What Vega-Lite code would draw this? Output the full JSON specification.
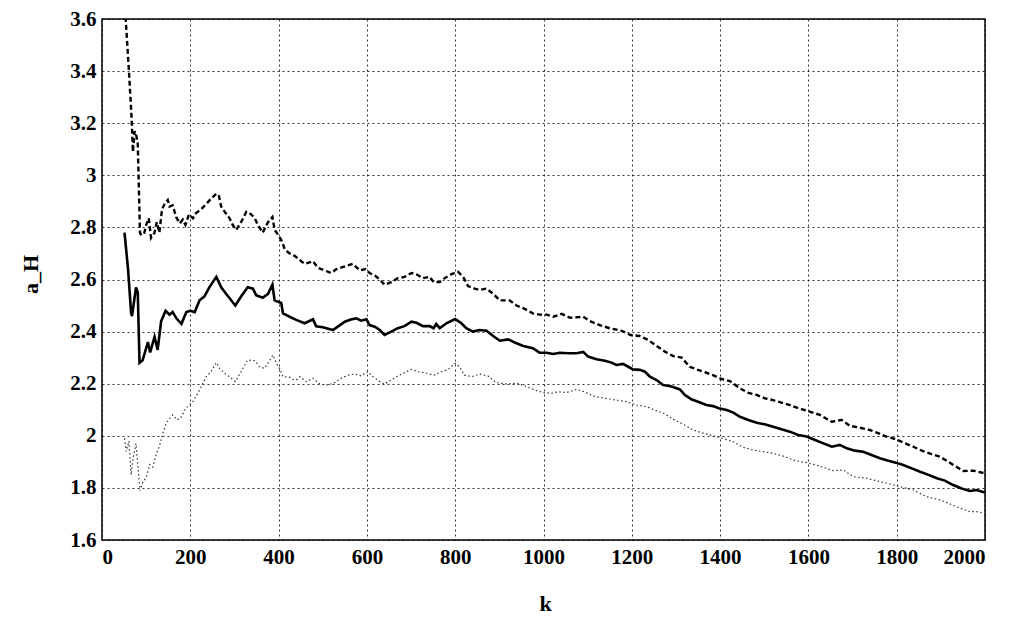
{
  "$schema": "https://vega.github.io/schema/vega-lite/v6.json",
  "width": 883,
  "height": 521,
  "autosize": {"type": "none"},
  "padding": {"left": 102, "top": 19, "right": 27, "bottom": 81},
  "background": "white",
  "config": {
    "view": {"stroke": "black", "strokeWidth": 1.5},
    "axis": {
      "grid": true,
      "gridColor": "#000000",
      "gridDash": [2, 3],
      "gridOpacity": 0.8,
      "gridWidth": 1,
      "domain": false,
      "ticks": false,
      "labelFont": "Liberation Serif",
      "labelFontWeight": "bold",
      "labelFontSize": 21,
      "labelColor": "#000000",
      "titleFont": "Liberation Serif",
      "titleFontWeight": "bold",
      "titleFontSize": 22,
      "titleColor": "#000000"
    }
  },
  "datasets": {
    "dashed": [
      {"k":50,"v":3.70},{"k":61,"v":3.40},{"k":67,"v":3.22},{"k":70,"v":3.09},{"k":74,"v":3.17},{"k":78,"v":3.15},{"k":81,"v":3.12},{"k":86,"v":2.78},{"k":89,"v":2.77},{"k":96,"v":2.78},{"k":100,"v":2.81},{"k":106,"v":2.835},{"k":111,"v":2.76},{"k":119,"v":2.78},{"k":124,"v":2.82},{"k":130,"v":2.78},{"k":136,"v":2.87},{"k":142,"v":2.89},{"k":149,"v":2.905},{"k":153,"v":2.88},{"k":160,"v":2.885},{"k":168,"v":2.84},{"k":176,"v":2.815},{"k":183,"v":2.83},{"k":189,"v":2.81},{"k":197,"v":2.85},{"k":206,"v":2.835},{"k":213,"v":2.855},{"k":225,"v":2.87},{"k":236,"v":2.89},{"k":247,"v":2.91},{"k":259,"v":2.93},{"k":265,"v":2.92},{"k":270,"v":2.88},{"k":280,"v":2.855},{"k":289,"v":2.835},{"k":296,"v":2.81},{"k":304,"v":2.79},{"k":315,"v":2.82},{"k":327,"v":2.86},{"k":338,"v":2.85},{"k":346,"v":2.835},{"k":353,"v":2.81},{"k":364,"v":2.78},{"k":376,"v":2.82},{"k":386,"v":2.84},{"k":391,"v":2.79},{"k":400,"v":2.77},{"k":408,"v":2.745},{"k":414,"v":2.715},{"k":425,"v":2.70},{"k":437,"v":2.69},{"k":444,"v":2.68},{"k":459,"v":2.66},{"k":478,"v":2.67},{"k":489,"v":2.645},{"k":504,"v":2.635},{"k":519,"v":2.625},{"k":531,"v":2.64},{"k":550,"v":2.65},{"k":568,"v":2.66},{"k":584,"v":2.635},{"k":597,"v":2.64},{"k":606,"v":2.625},{"k":618,"v":2.615},{"k":629,"v":2.60},{"k":640,"v":2.58},{"k":655,"v":2.59},{"k":670,"v":2.605},{"k":685,"v":2.61},{"k":701,"v":2.625},{"k":712,"v":2.62},{"k":727,"v":2.605},{"k":742,"v":2.61},{"k":751,"v":2.59},{"k":765,"v":2.59},{"k":776,"v":2.605},{"k":791,"v":2.62},{"k":806,"v":2.63},{"k":818,"v":2.61},{"k":829,"v":2.575},{"k":844,"v":2.565},{"k":855,"v":2.56},{"k":871,"v":2.565},{"k":886,"v":2.545},{"k":901,"v":2.52},{"k":923,"v":2.52},{"k":939,"v":2.50},{"k":954,"v":2.49},{"k":976,"v":2.47},{"k":991,"v":2.465},{"k":1007,"v":2.465},{"k":1022,"v":2.457},{"k":1041,"v":2.468},{"k":1060,"v":2.453},{"k":1090,"v":2.457},{"k":1105,"v":2.44},{"k":1127,"v":2.425},{"k":1150,"v":2.413},{"k":1177,"v":2.403},{"k":1197,"v":2.387},{"k":1218,"v":2.383},{"k":1237,"v":2.368},{"k":1256,"v":2.345},{"k":1275,"v":2.323},{"k":1294,"v":2.306},{"k":1313,"v":2.30},{"k":1331,"v":2.265},{"k":1350,"v":2.253},{"k":1369,"v":2.242},{"k":1384,"v":2.233},{"k":1403,"v":2.218},{"k":1422,"v":2.21},{"k":1445,"v":2.182},{"k":1464,"v":2.165},{"k":1483,"v":2.157},{"k":1501,"v":2.144},{"k":1520,"v":2.137},{"k":1539,"v":2.127},{"k":1558,"v":2.118},{"k":1577,"v":2.106},{"k":1603,"v":2.093},{"k":1626,"v":2.08},{"k":1653,"v":2.054},{"k":1675,"v":2.061},{"k":1694,"v":2.038},{"k":1717,"v":2.031},{"k":1740,"v":2.022},{"k":1758,"v":2.01},{"k":1777,"v":1.997},{"k":1798,"v":1.987},{"k":1819,"v":1.971},{"k":1838,"v":1.958},{"k":1857,"v":1.943},{"k":1879,"v":1.93},{"k":1898,"v":1.92},{"k":1917,"v":1.90},{"k":1936,"v":1.88},{"k":1951,"v":1.865},{"k":1974,"v":1.866},{"k":2000,"v":1.856}
    ],
    "solid": [
      {"k":51,"v":2.78},{"k":55,"v":2.71},{"k":59,"v":2.64},{"k":66,"v":2.47},{"k":68,"v":2.46},{"k":77,"v":2.57},{"k":81,"v":2.55},{"k":85,"v":2.28},{"k":92,"v":2.29},{"k":104,"v":2.36},{"k":109,"v":2.32},{"k":119,"v":2.38},{"k":126,"v":2.33},{"k":134,"v":2.44},{"k":144,"v":2.48},{"k":153,"v":2.465},{"k":160,"v":2.475},{"k":169,"v":2.45},{"k":180,"v":2.43},{"k":191,"v":2.475},{"k":200,"v":2.48},{"k":210,"v":2.475},{"k":221,"v":2.52},{"k":232,"v":2.535},{"k":243,"v":2.57},{"k":259,"v":2.61},{"k":270,"v":2.57},{"k":281,"v":2.545},{"k":302,"v":2.50},{"k":315,"v":2.535},{"k":330,"v":2.57},{"k":342,"v":2.565},{"k":349,"v":2.54},{"k":364,"v":2.53},{"k":376,"v":2.545},{"k":386,"v":2.58},{"k":391,"v":2.52},{"k":406,"v":2.51},{"k":410,"v":2.47},{"k":425,"v":2.457},{"k":440,"v":2.445},{"k":459,"v":2.432},{"k":478,"v":2.447},{"k":485,"v":2.42},{"k":500,"v":2.417},{"k":523,"v":2.406},{"k":534,"v":2.419},{"k":550,"v":2.438},{"k":565,"v":2.447},{"k":576,"v":2.451},{"k":587,"v":2.442},{"k":599,"v":2.447},{"k":606,"v":2.425},{"k":618,"v":2.419},{"k":629,"v":2.406},{"k":640,"v":2.387},{"k":655,"v":2.40},{"k":670,"v":2.413},{"k":685,"v":2.421},{"k":701,"v":2.438},{"k":712,"v":2.434},{"k":727,"v":2.421},{"k":742,"v":2.421},{"k":751,"v":2.413},{"k":757,"v":2.429},{"k":765,"v":2.413},{"k":780,"v":2.432},{"k":800,"v":2.448},{"k":814,"v":2.432},{"k":825,"v":2.413},{"k":840,"v":2.40},{"k":855,"v":2.406},{"k":871,"v":2.403},{"k":886,"v":2.383},{"k":901,"v":2.365},{"k":920,"v":2.37},{"k":939,"v":2.355},{"k":954,"v":2.345},{"k":976,"v":2.336},{"k":991,"v":2.319},{"k":1007,"v":2.319},{"k":1022,"v":2.314},{"k":1037,"v":2.319},{"k":1056,"v":2.317},{"k":1075,"v":2.317},{"k":1090,"v":2.322},{"k":1101,"v":2.304},{"k":1120,"v":2.294},{"k":1139,"v":2.288},{"k":1154,"v":2.281},{"k":1165,"v":2.272},{"k":1180,"v":2.276},{"k":1192,"v":2.265},{"k":1203,"v":2.255},{"k":1218,"v":2.253},{"k":1230,"v":2.246},{"k":1241,"v":2.227},{"k":1256,"v":2.214},{"k":1271,"v":2.195},{"k":1290,"v":2.189},{"k":1309,"v":2.178},{"k":1320,"v":2.157},{"k":1335,"v":2.14},{"k":1350,"v":2.131},{"k":1369,"v":2.118},{"k":1384,"v":2.114},{"k":1397,"v":2.106},{"k":1415,"v":2.099},{"k":1430,"v":2.089},{"k":1445,"v":2.073},{"k":1464,"v":2.061},{"k":1483,"v":2.05},{"k":1501,"v":2.044},{"k":1520,"v":2.035},{"k":1539,"v":2.025},{"k":1558,"v":2.016},{"k":1577,"v":2.003},{"k":1596,"v":1.997},{"k":1615,"v":1.984},{"k":1634,"v":1.971},{"k":1653,"v":1.958},{"k":1671,"v":1.965},{"k":1687,"v":1.952},{"k":1705,"v":1.943},{"k":1724,"v":1.939},{"k":1743,"v":1.926},{"k":1762,"v":1.914},{"k":1781,"v":1.904},{"k":1798,"v":1.897},{"k":1815,"v":1.888},{"k":1834,"v":1.875},{"k":1853,"v":1.862},{"k":1872,"v":1.85},{"k":1891,"v":1.837},{"k":1909,"v":1.828},{"k":1928,"v":1.811},{"k":1947,"v":1.798},{"k":1966,"v":1.788},{"k":1981,"v":1.792},{"k":2000,"v":1.782}
    ],
    "dotted": [
      {"k":51,"v":1.99},{"k":55,"v":1.94},{"k":61,"v":1.98},{"k":66,"v":1.85},{"k":70,"v":1.91},{"k":77,"v":1.97},{"k":81,"v":1.89},{"k":86,"v":1.79},{"k":92,"v":1.82},{"k":100,"v":1.84},{"k":108,"v":1.89},{"k":115,"v":1.88},{"k":123,"v":1.93},{"k":130,"v":1.96},{"k":138,"v":2.01},{"k":146,"v":2.05},{"k":153,"v":2.067},{"k":160,"v":2.08},{"k":170,"v":2.061},{"k":180,"v":2.073},{"k":189,"v":2.105},{"k":198,"v":2.118},{"k":206,"v":2.131},{"k":217,"v":2.163},{"k":225,"v":2.189},{"k":236,"v":2.227},{"k":247,"v":2.246},{"k":259,"v":2.281},{"k":266,"v":2.259},{"k":278,"v":2.24},{"k":293,"v":2.221},{"k":302,"v":2.208},{"k":315,"v":2.246},{"k":330,"v":2.291},{"k":346,"v":2.288},{"k":357,"v":2.265},{"k":368,"v":2.259},{"k":376,"v":2.278},{"k":387,"v":2.31},{"k":395,"v":2.278},{"k":402,"v":2.259},{"k":410,"v":2.227},{"k":425,"v":2.225},{"k":432,"v":2.217},{"k":440,"v":2.214},{"k":448,"v":2.227},{"k":463,"v":2.208},{"k":478,"v":2.221},{"k":493,"v":2.199},{"k":512,"v":2.195},{"k":527,"v":2.204},{"k":542,"v":2.221},{"k":557,"v":2.233},{"k":572,"v":2.237},{"k":587,"v":2.23},{"k":602,"v":2.246},{"k":614,"v":2.227},{"k":629,"v":2.208},{"k":640,"v":2.199},{"k":652,"v":2.211},{"k":667,"v":2.227},{"k":682,"v":2.24},{"k":701,"v":2.255},{"k":716,"v":2.246},{"k":735,"v":2.24},{"k":753,"v":2.233},{"k":769,"v":2.246},{"k":784,"v":2.255},{"k":800,"v":2.278},{"k":810,"v":2.265},{"k":821,"v":2.233},{"k":837,"v":2.227},{"k":855,"v":2.237},{"k":874,"v":2.23},{"k":893,"v":2.204},{"k":916,"v":2.199},{"k":939,"v":2.202},{"k":961,"v":2.189},{"k":980,"v":2.176},{"k":999,"v":2.166},{"k":1018,"v":2.163},{"k":1033,"v":2.169},{"k":1052,"v":2.166},{"k":1075,"v":2.178},{"k":1093,"v":2.169},{"k":1112,"v":2.153},{"k":1139,"v":2.144},{"k":1165,"v":2.137},{"k":1188,"v":2.131},{"k":1211,"v":2.118},{"k":1233,"v":2.112},{"k":1252,"v":2.099},{"k":1275,"v":2.084},{"k":1294,"v":2.063},{"k":1316,"v":2.045},{"k":1339,"v":2.022},{"k":1362,"v":2.01},{"k":1384,"v":2.0},{"k":1407,"v":1.99},{"k":1430,"v":1.977},{"k":1452,"v":1.956},{"k":1475,"v":1.945},{"k":1498,"v":1.939},{"k":1520,"v":1.933},{"k":1543,"v":1.922},{"k":1566,"v":1.907},{"k":1581,"v":1.901},{"k":1596,"v":1.897},{"k":1634,"v":1.879},{"k":1656,"v":1.866},{"k":1679,"v":1.869},{"k":1702,"v":1.843},{"k":1732,"v":1.837},{"k":1762,"v":1.824},{"k":1785,"v":1.815},{"k":1807,"v":1.805},{"k":1838,"v":1.792},{"k":1868,"v":1.766},{"k":1898,"v":1.754},{"k":1921,"v":1.738},{"k":1944,"v":1.722},{"k":1966,"v":1.709},{"k":1981,"v":1.709},{"k":2000,"v":1.702}
    ]
  },
  "encoding": {
    "x": {
      "field": "k",
      "type": "quantitative",
      "scale": {"domain": [0, 2000], "nice": false},
      "axis": {
        "values": [0, 200, 400, 600, 800, 1000, 1200, 1400, 1600, 1800, 2000],
        "format": "d",
        "title": "k",
        "labelPadding": 6,
        "titleX": 443,
        "titleY": 63,
        "titleAlign": "center",
        "titleBaseline": "middle"
      }
    },
    "y": {
      "field": "v",
      "type": "quantitative",
      "scale": {"domain": [1.6, 3.6], "nice": false, "zero": false},
      "axis": {
        "values": [1.6, 1.8, 2, 2.2, 2.4, 2.6, 2.8, 3, 3.2, 3.4, 3.6],
        "format": "~g",
        "title": "a_H",
        "labelPadding": 6,
        "titleX": -72,
        "titleY": 255,
        "titleAlign": "center",
        "titleBaseline": "middle",
        "titleAngle": -90
      }
    }
  },
  "layer": [
    {
      "data": {"name": "dotted"},
      "mark": {"type": "line", "stroke": "#333333", "strokeWidth": 1.2, "strokeDash": [1.5, 2.5], "clip": true}
    },
    {
      "data": {"name": "solid"},
      "mark": {"type": "line", "stroke": "#000000", "strokeWidth": 2.6, "clip": true}
    },
    {
      "data": {"name": "dashed"},
      "mark": {"type": "line", "stroke": "#000000", "strokeWidth": 2.4, "strokeDash": [5, 3], "clip": true}
    }
  ]
}
